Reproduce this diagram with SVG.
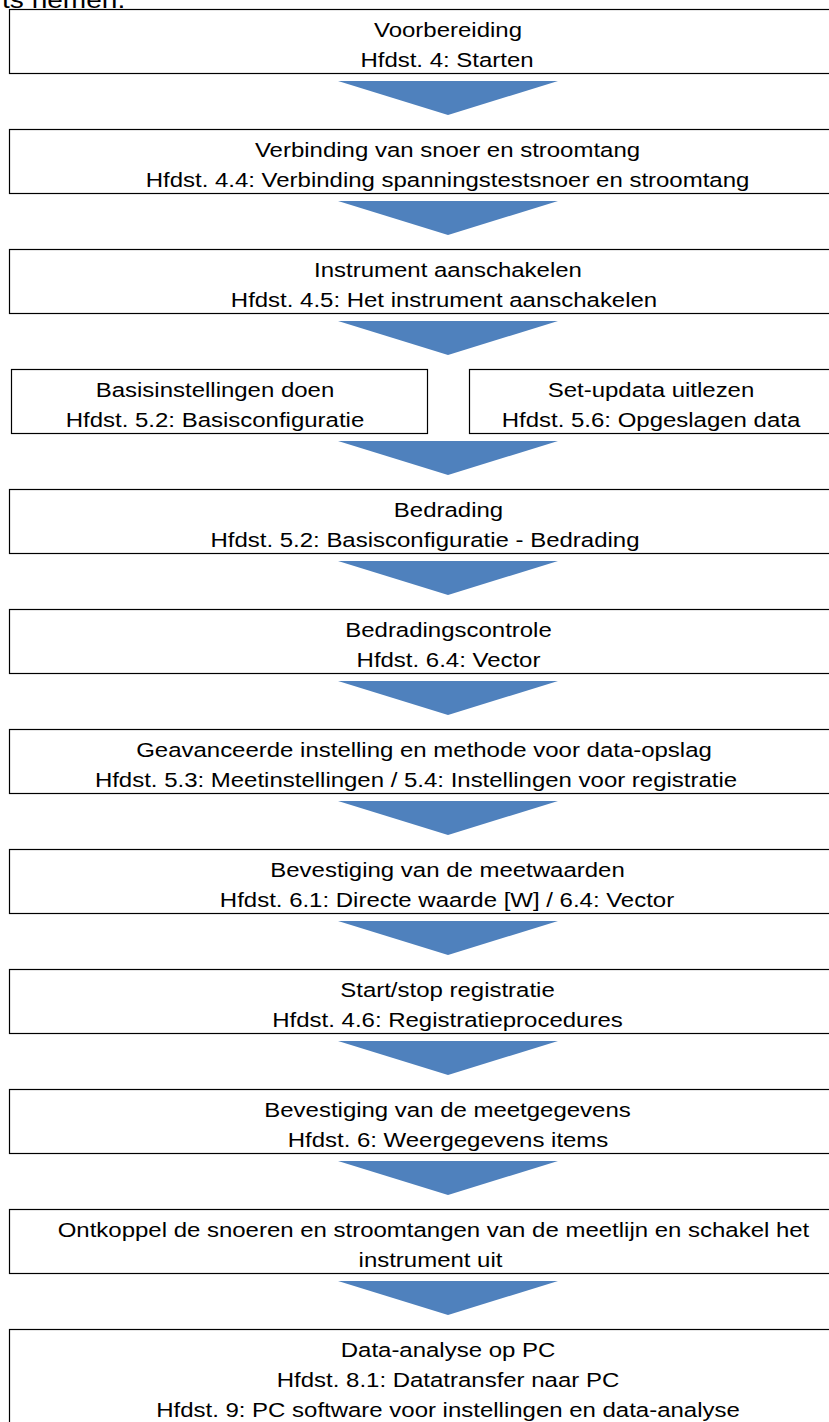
<svg xmlns="http://www.w3.org/2000/svg" width="829" height="1422" viewBox="0 0 829 1422">
<style>
.box{fill:#fff;stroke:#000;stroke-width:1.2}
.t{font-family:"Liberation Sans",Arial,sans-serif;font-size:20.5px;fill:#000;text-anchor:middle}
.h{font-family:"Liberation Sans",Arial,sans-serif;font-size:24px;fill:#000}
.arr{fill:#4F81BD}
</style>
<rect width="829" height="1422" fill="#fff"/>
<text class="h" transform="matrix(1.17 0 0 1 2 8)">ts nemen.</text>

<g id="connectors">
<polygon class="arr" points="338,81 558,81 448,115"/>
<polygon class="arr" points="338,201 558,201 448,235"/>
<polygon class="arr" points="338,321 558,321 448,355"/>
<polygon class="arr" points="338,441 558,441 448,475"/>
<polygon class="arr" points="338,561 558,561 448,595"/>
<polygon class="arr" points="338,681 558,681 448,715"/>
<polygon class="arr" points="338,801 558,801 448,835"/>
<polygon class="arr" points="338,921 558,921 448,955"/>
<polygon class="arr" points="338,1041 558,1041 448,1075"/>
<polygon class="arr" points="338,1161 558,1161 448,1195"/>
<polygon class="arr" points="338,1281 558,1281 448,1315"/>
</g>

<g id="n1">
<rect class="box" x="9.5" y="9.5" width="900" height="64"/>
<text class="t" transform="matrix(1.17 0 0 1 448 36.5)">Voorbereiding</text>
<text class="t" transform="matrix(1.17 0 0 1 447 66.5)">Hfdst. 4: Starten</text>
</g>
<g id="n2">
<rect class="box" x="9.5" y="129.5" width="900" height="64"/>
<text class="t" transform="matrix(1.17 0 0 1 447.5 156.5)">Verbinding van snoer en stroomtang</text>
<text class="t" transform="matrix(1.17 0 0 1 447.5 186.5)">Hfdst. 4.4: Verbinding spanningstestsnoer en stroomtang</text>
</g>
<g id="n3">
<rect class="box" x="9.5" y="249.5" width="900" height="64"/>
<text class="t" transform="matrix(1.17 0 0 1 448 276.5)">Instrument aanschakelen</text>
<text class="t" transform="matrix(1.17 0 0 1 444 306.5)">Hfdst. 4.5: Het instrument aanschakelen</text>
</g>
<g id="n4a">
<rect class="box" x="11.5" y="369.5" width="416" height="64"/>
<text class="t" transform="matrix(1.17 0 0 1 215 396.5)">Basisinstellingen doen</text>
<text class="t" transform="matrix(1.17 0 0 1 215 426.5)">Hfdst. 5.2: Basisconfiguratie</text>
</g>
<g id="n4b">
<rect class="box" x="469.5" y="369.5" width="420" height="64"/>
<text class="t" transform="matrix(1.17 0 0 1 651 396.5)">Set-updata uitlezen</text>
<text class="t" transform="matrix(1.17 0 0 1 651 426.5)">Hfdst. 5.6: Opgeslagen data</text>
</g>
<g id="n5">
<rect class="box" x="9.5" y="489.5" width="900" height="64"/>
<text class="t" transform="matrix(1.17 0 0 1 448.5 516.5)">Bedrading</text>
<text class="t" transform="matrix(1.17 0 0 1 425 546.5)">Hfdst. 5.2: Basisconfiguratie - Bedrading</text>
</g>
<g id="n6">
<rect class="box" x="9.5" y="609.5" width="900" height="64"/>
<text class="t" transform="matrix(1.17 0 0 1 448.5 636.5)">Bedradingscontrole</text>
<text class="t" transform="matrix(1.17 0 0 1 448.5 666.5)">Hfdst. 6.4: Vector</text>
</g>
<g id="n7">
<rect class="box" x="9.5" y="729.5" width="900" height="64"/>
<text class="t" transform="matrix(1.17 0 0 1 424 756.5)">Geavanceerde instelling en methode voor data-opslag</text>
<text class="t" transform="matrix(1.17 0 0 1 416 786.5)">Hfdst. 5.3: Meetinstellingen / 5.4: Instellingen voor registratie</text>
</g>
<g id="n8">
<rect class="box" x="9.5" y="849.5" width="900" height="64"/>
<text class="t" transform="matrix(1.17 0 0 1 447.5 876.5)">Bevestiging van de meetwaarden</text>
<text class="t" transform="matrix(1.17 0 0 1 447 906.5)">Hfdst. 6.1: Directe waarde [W] / 6.4: Vector</text>
</g>
<g id="n9">
<rect class="box" x="9.5" y="969.5" width="900" height="64"/>
<text class="t" transform="matrix(1.17 0 0 1 447.5 996.5)">Start/stop registratie</text>
<text class="t" transform="matrix(1.17 0 0 1 447.5 1026.5)">Hfdst. 4.6: Registratieprocedures</text>
</g>
<g id="n10">
<rect class="box" x="9.5" y="1089.5" width="900" height="64"/>
<text class="t" transform="matrix(1.17 0 0 1 447.5 1116.5)">Bevestiging van de meetgegevens</text>
<text class="t" transform="matrix(1.17 0 0 1 448 1146.5)">Hfdst. 6: Weergegevens items</text>
</g>
<g id="n11">
<rect class="box" x="9.5" y="1209.5" width="900" height="64"/>
<text class="t" transform="matrix(1.17 0 0 1 433.5 1236.5)">Ontkoppel de snoeren en stroomtangen van de meetlijn en schakel het</text>
<text class="t" transform="matrix(1.17 0 0 1 430.5 1266.5)">instrument uit</text>
</g>
<g id="n12">
<rect class="box" x="9.5" y="1329.5" width="900" height="120"/>
<text class="t" transform="matrix(1.17 0 0 1 448 1356.5)">Data-analyse op PC</text>
<text class="t" transform="matrix(1.17 0 0 1 448 1386.5)">Hfdst. 8.1: Datatransfer naar PC</text>
<text class="t" transform="matrix(1.17 0 0 1 448 1416.5)">Hfdst. 9: PC software voor instellingen en data-analyse</text>
</g>
</svg>
